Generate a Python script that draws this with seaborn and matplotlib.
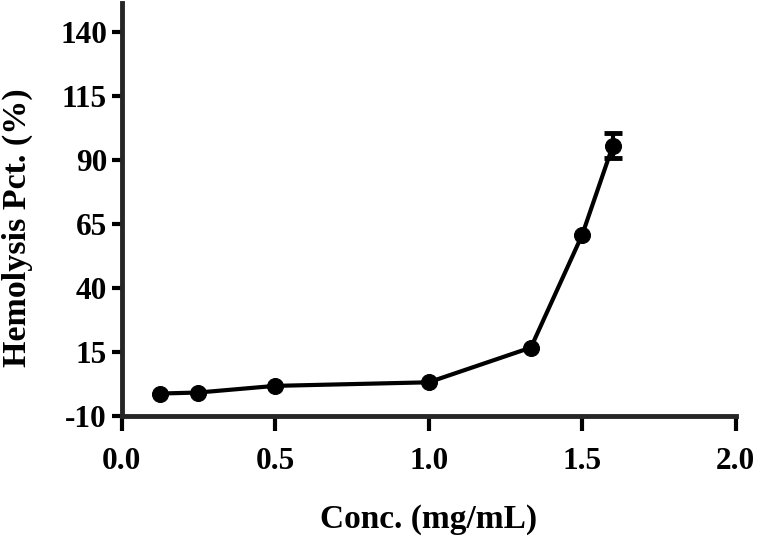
import numpy as np
import pandas as pd
import seaborn as sns
import matplotlib.pyplot as plt

# ==================================
# Data
# ==================================

conc = [0.125, 0.25, 0.5, 1.0, 1.333, 1.5, 1.6]
hemolysis = [-1.4, -1.0, 1.6, 3.0, 16.6, 60.7, 95.7]
sd = [0, 0, 0, 0, 0, 0, 4.9]

x_ticks = [0.0, 0.5, 1.0, 1.5, 2.0]
y_ticks = [-10, 15, 40, 65, 90, 115, 140]

df = pd.DataFrame({'conc': conc, 'hemolysis': hemolysis, 'sd': sd})

# ==================================
# Style
# ==================================

sns.set_style('ticks')
plt.rcParams['font.family'] = ['Liberation Serif', 'DejaVu Serif']
plt.rcParams['font.weight'] = 'bold'
plt.rcParams['text.color'] = 'black'
plt.rcParams['axes.labelcolor'] = 'black'

fig = plt.figure(figsize=(7.6, 5.36), dpi=100)
ax = fig.add_axes([0.16, 0.2248, 0.808, 0.7696])

# ==================================
# Line plot, error bar only where SD > 0
# ==================================

err = df[df['sd'] > 0]
ax.errorbar(err['conc'], err['hemolysis'], yerr=err['sd'], fmt='none',
            ecolor='black', elinewidth=3, capsize=6.5, capthick=3.5, zorder=2)
sns.lineplot(x='conc', y='hemolysis', data=df, ax=ax, color='black',
             linewidth=3, marker='o', markersize=11.5, markeredgecolor='black',
             zorder=3)

ax.set_xlim(0, 2.0)
ax.set_ylim(-10, 151.5)
ax.set_xticks(x_ticks)
ax.set_xticklabels([f'{v:.1f}' for v in x_ticks])
ax.set_yticks(y_ticks)
ax.set_yticklabels([str(v) for v in y_ticks])

ax.set_xlabel('Conc. (mg/mL)', fontsize=24, fontweight='bold', labelpad=20)
ax.set_ylabel('Hemolysis Pct. (%)', fontsize=24.5, fontweight='bold')
ax.yaxis.set_label_coords(-0.144, 0.456)

sns.despine(ax=ax)
for side in ['left', 'bottom']:
    ax.spines[side].set_linewidth(3.5)
ax.tick_params(axis='x', width=3, length=11, labelsize=22.5, pad=12,
               color='black', labelcolor='black')
ax.tick_params(axis='y', width=3, length=7.5, labelsize=22.5, pad=3,
               color='black', labelcolor='black')
for lbl in ax.get_xticklabels() + ax.get_yticklabels():
    lbl.set_fontweight('bold')

plt.savefig('out.png', dpi=100)
